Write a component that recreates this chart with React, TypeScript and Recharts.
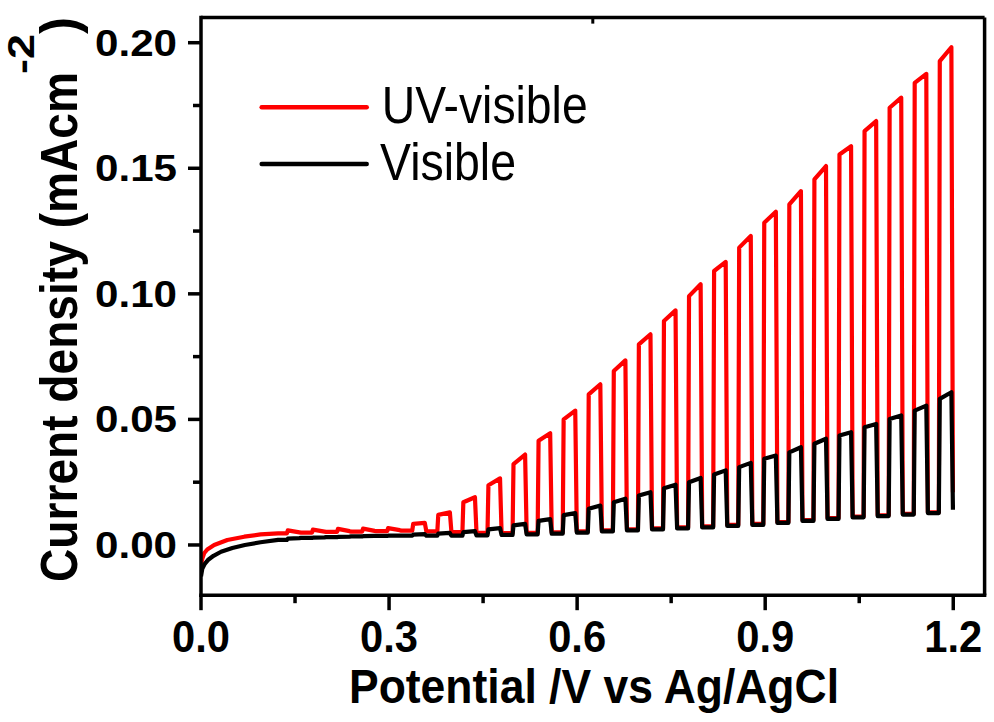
import React from 'react';
import { LineChart, Line, XAxis, YAxis, ReferenceLine, Legend } from 'recharts';

const FONT = '"Liberation Sans", Arial, Helvetica, sans-serif';

// Axis ticks and labels
const xTicks = [0, 0.15, 0.3, 0.45, 0.6, 0.75, 0.9, 1.05, 1.2];
const xTickLabels = ['0.0', '', '0.3', '', '0.6', '', '0.9', '', '1.2'];
const yTicks = [0, 0.025, 0.05, 0.075, 0.1, 0.125, 0.15, 0.175, 0.2];
const yTickLabels = ['0.00', '', '0.05', '', '0.10', '', '0.15', '', '0.20'];

const seriesNames = ['UV-visible', 'Visible'];
const seriesColors = ['#ff0000', '#000000'];

// Initial (un-chopped) part of each scan
const redStartV = [0, 0.002, 0.005, 0.01, 0.021, 0.042, 0.069, 0.095, 0.123];
const redStartJ = [-0.008, -0.0055, -0.0033, -0.0018, 0.0, 0.002, 0.0033, 0.0042, 0.0046];
const blackStartV = [0, 0.002, 0.006, 0.011, 0.02, 0.032, 0.05, 0.07, 0.095, 0.123];
const blackStartJ = [-0.0125, -0.0095, -0.0075, -0.006, -0.0043, -0.0027, -0.0012, 0.0, 0.0011, 0.002];

// Light chopping: potentials where light is switched on / off
const lightOn = [0.137, 0.177, 0.217, 0.257, 0.297, 0.337, 0.377, 0.417, 0.457, 0.497, 0.537, 0.577, 0.617, 0.657, 0.697, 0.737, 0.777, 0.817, 0.857, 0.897, 0.937, 0.977, 1.017, 1.057, 1.097, 1.137, 1.177];
const lightOff = [0.157, 0.197, 0.237, 0.277, 0.317, 0.357, 0.397, 0.437, 0.477, 0.517, 0.557, 0.597, 0.637, 0.677, 0.717, 0.757, 0.797, 0.837, 0.877, 0.917, 0.957, 0.997, 1.037, 1.077, 1.117, 1.157, 1.197];

// UV-visible: current at start / end of each light pulse, and dark current after it
const redOnStart = [0.0058, 0.0061, 0.0064, 0.0065, 0.0067, 0.0084, 0.0120, 0.0170, 0.0238, 0.0322, 0.0415, 0.0500, 0.0600, 0.0693, 0.0799, 0.0892, 0.0991, 0.1091, 0.1184, 0.1283, 0.1356, 0.1456, 0.1555, 0.1648, 0.1741, 0.1840, 0.1927];
const redOnEnd = [0.0050, 0.0053, 0.0055, 0.0056, 0.0059, 0.0088, 0.0130, 0.0190, 0.0265, 0.0360, 0.0445, 0.0535, 0.0640, 0.0735, 0.0839, 0.0934, 0.1038, 0.1127, 0.1230, 0.1327, 0.1409, 0.1509, 0.1588, 0.1688, 0.1781, 0.1876, 0.1982];
const redDark = [0.0049, 0.0052, 0.0053, 0.0055, 0.0057, 0.0054, 0.0051, 0.0048, 0.0047, 0.0048, 0.0050, 0.0054, 0.0058, 0.0062, 0.0066, 0.0070, 0.0074, 0.0080, 0.0084, 0.0091, 0.0099, 0.0107, 0.0113, 0.0118, 0.0124, 0.0130, 0.0210];

// Visible
const blackOnStart = [0.0025, 0.0029, 0.0032, 0.0035, 0.0037, 0.0041, 0.0045, 0.0051, 0.0062, 0.0078, 0.0096, 0.0119, 0.0144, 0.0170, 0.0197, 0.0226, 0.0250, 0.0281, 0.0310, 0.0343, 0.0369, 0.0403, 0.0436, 0.0469, 0.0502, 0.0535, 0.0582];
const blackOnEnd = [0.0027, 0.0030, 0.0033, 0.0036, 0.0037, 0.0043, 0.0048, 0.0055, 0.0067, 0.0084, 0.0103, 0.0127, 0.0157, 0.0184, 0.0210, 0.0240, 0.0267, 0.0297, 0.0327, 0.0356, 0.0389, 0.0423, 0.0449, 0.0482, 0.0516, 0.0555, 0.0608];
const blackDark = [0.0028, 0.0031, 0.0034, 0.0036, 0.0037, 0.0037, 0.0037, 0.0038, 0.0040, 0.0042, 0.0045, 0.0049, 0.0054, 0.0058, 0.0062, 0.0066, 0.0070, 0.0076, 0.0080, 0.0088, 0.0096, 0.0104, 0.0110, 0.0115, 0.0121, 0.0127, 0.0140];

const RISE = 0.0015;
const FALL = 0.0025;

function buildTrace(v0: number[], j0: number[], onStart: number[], onEnd: number[], dark: number[]) {
  const pts = v0.map((v, i) => ({ v, j: j0[i] }));
  lightOn.forEach((on, i) => {
    const before = i === 0 ? j0[j0.length - 1] : dark[i - 1];
    pts.push({ v: on, j: before });
    pts.push({ v: on + RISE, j: onStart[i] });
    pts.push({ v: lightOff[i], j: onEnd[i] });
    pts.push({ v: lightOff[i] + FALL, j: dark[i] });
  });
  return pts;
}

const redData = buildTrace(redStartV, redStartJ, redOnStart, redOnEnd, redDark);
const blackData = buildTrace(blackStartV, blackStartJ, blackOnStart, blackOnEnd, blackDark);

const XTick = (props: any) => {
  const { x, y, index } = props;
  const label = xTickLabels[index] ?? '';
  const major = label !== '';
  return (
    <g>
      <line x1={x} x2={x} y1={y} y2={y + (major ? 15 : 8)} stroke="#000" strokeWidth={3.5} />
      {major && (
        <text x={x} y={y + 57} textAnchor="middle" fontSize={45} fontWeight="bold" fontFamily={FONT}
          textLength={58} lengthAdjust="spacingAndGlyphs" fill="#000">{label}</text>
      )}
    </g>
  );
};

const YTick = (props: any) => {
  const { x, y, index } = props;
  const label = yTickLabels[index] ?? '';
  const major = label !== '';
  return (
    <g>
      <line x1={x} x2={x - (major ? 13 : 8)} y1={y} y2={y} stroke="#000" strokeWidth={3.5} />
      {major && (
        <text x={x - 24} y={y + 13} textAnchor="end" fontSize={37} fontWeight="bold" fontFamily={FONT}
          textLength={82} lengthAdjust="spacingAndGlyphs" fill="#000">{label}</text>
      )}
    </g>
  );
};

const YTitle = () => (
  <g fill="#000" fontFamily={FONT} fontWeight="bold">
    <text transform="rotate(-90 77 582)" x={77} y={582} fontSize={52}
      textLength={510} lengthAdjust="spacingAndGlyphs">Current density (mAcm</text>
    <text transform="rotate(-90 34 74)" x={34} y={74} fontSize={37}
      textLength={40} lengthAdjust="spacingAndGlyphs">-2</text>
    <text transform="rotate(-90 77 34)" x={77} y={34} fontSize={52}
      textLength={17} lengthAdjust="spacingAndGlyphs">)</text>
  </g>
);

const XTitle = () => (
  <text x={594} y={703} textAnchor="middle" fontSize={49} fontWeight="bold" fontFamily={FONT}
    textLength={490} lengthAdjust="spacingAndGlyphs" fill="#000">Potential /V vs Ag/AgCl</text>
);

const LegendBox = () => (
  <svg width={420} height={130} style={{ display: 'block', overflow: 'visible' }}>
    <line x1={11.7} x2={116.7} y1={27.3} y2={27.3} stroke={seriesColors[0]} strokeWidth={4.5} strokeLinecap="round" />
    <text x={131.7} y={43.3} fontSize={51} fontFamily={FONT} textLength={206} lengthAdjust="spacingAndGlyphs" fill="#000">{seriesNames[0]}</text>
    <line x1={11.7} x2={116.7} y1={84} y2={84} stroke={seriesColors[1]} strokeWidth={4.5} strokeLinecap="round" />
    <text x={130} y={100} fontSize={51} fontFamily={FONT} textLength={136} lengthAdjust="spacingAndGlyphs" fill="#000">{seriesNames[1]}</text>
  </svg>
);

export default function App() {
  return (
    <div style={{ position: 'absolute', left: 0, top: 0, background: '#fff' }}>
      <LineChart width={994} height={722} margin={{ top: 17.6, right: 9.4, left: 0, bottom: 0 }}>
        <XAxis type="number" dataKey="v" domain={[0, 1.25]} ticks={xTicks} interval={0} height={126.8}
          tickSize={0} tickMargin={0} tickLine={false} tick={<XTick />} allowDataOverflow
          axisLine={{ stroke: '#000', strokeWidth: 3.5, strokeLinecap: 'square' }} label={<XTitle />} />
        <YAxis type="number" domain={[-0.02, 0.21]} ticks={yTicks} interval={0} width={201}
          tickSize={0} tickMargin={0} tickLine={false} tick={<YTick />} allowDataOverflow
          axisLine={{ stroke: '#000', strokeWidth: 3.5, strokeLinecap: 'square' }} label={<YTitle />} />
        <Line data={redData} dataKey="j" type="linear" stroke={seriesColors[0]} strokeWidth={4.2} dot={false}
          isAnimationActive={false} strokeLinejoin="round" name={seriesNames[0]} />
        <Line data={blackData} dataKey="j" type="linear" stroke={seriesColors[1]} strokeWidth={4.2} dot={false}
          isAnimationActive={false} strokeLinejoin="round" name={seriesNames[1]} />
        <ReferenceLine y={0.21} stroke="#000" strokeWidth={3.5} />
        <ReferenceLine x={1.25} stroke="#000" strokeWidth={3.5} />
        <ReferenceLine segment={[{ x: 0.625, y: 0.21 }, { x: 0.625, y: 0.2076 }]} stroke="#000" strokeWidth={3} ifOverflow="visible" />
        <Legend layout="horizontal" verticalAlign="middle" align="center" content={<LegendBox />}
          wrapperStyle={{ position: 'absolute', left: 250, top: 80, width: 420, height: 130 }} />
      </LineChart>
    </div>
  );
}
